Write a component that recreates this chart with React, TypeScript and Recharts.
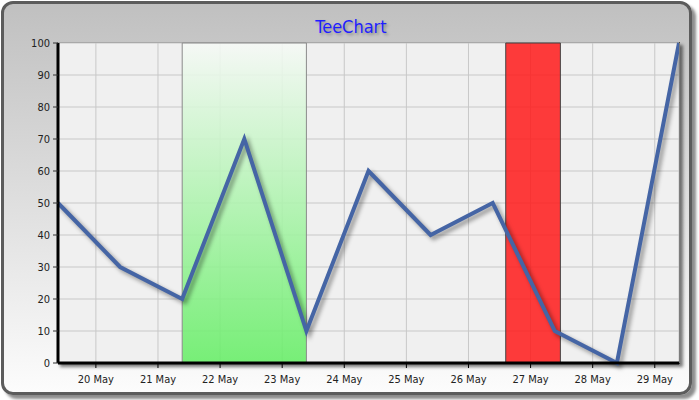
import React from 'react';
import {
  LineChart,
  Line,
  XAxis,
  YAxis,
  CartesianGrid,
  ReferenceArea,
} from 'recharts';

/* ------------------------------------------------------------------ */
/*  Data                                                               */
/* ------------------------------------------------------------------ */

// x position of each point in days of May (points sit ~9h past midnight)
const pointDays = [19.39, 20.39, 21.39, 22.39, 23.39, 24.39, 25.39, 26.39, 27.39, 28.39, 29.39];
const values = [50, 30, 20, 70, 10, 60, 40, 50, 10, 0, 100];

const dayTicks = [20, 21, 22, 23, 24, 25, 26, 27, 28, 29];
const dayLabels = ['20 May', '21 May', '22 May', '23 May', '24 May', '25 May', '26 May', '27 May', '28 May', '29 May'];
const valueTicks = [0, 10, 20, 30, 40, 50, 60, 70, 80, 90, 100];

const greenBand = [21.39, 23.39];
const redBand = [26.6, 27.48];

const chartData = pointDays.map((d, i) => ({ day: d, value: values[i] }));

/* ------------------------------------------------------------------ */
/*  Design tokens                                                      */
/* ------------------------------------------------------------------ */

const FONT = "'DejaVu Sans Condensed', 'DejaVu Sans', sans-serif";
const LINE = '#4565a5';
const GRID = '#c8c8c8';
const PLOT_BG = '#f0f0f0';

const W = 699;
const H = 400;
const PLOT = { left: 58, top: 43, right: 679, bottom: 363 };

export default function App() {
  return (
    <div style={{ position: 'absolute', left: 0, top: 0, width: W, height: H, overflow: 'hidden', background: '#fff' }}>
      <style>{`.recharts-line-curve { filter: drop-shadow(3px 3px 2px rgba(0,0,0,0.4)); }`}</style>

      {/* outer rounded panel */}
      <div
        style={{
          position: 'absolute',
          left: 1,
          top: 1,
          width: 691,
          height: 394,
          boxSizing: 'border-box',
          border: '3px solid #5c5c5c',
          borderRadius: 12,
          background: 'linear-gradient(to bottom, #c0c0c0 0%, #fcfcfc 100%)',
          boxShadow: '4px 4px 3px rgba(0,0,0,0.45)',
        }}
      />

      {/* title */}
      <div
        style={{
          position: 'absolute',
          left: 0,
          top: 16,
          width: 702,
          textAlign: 'center',
          fontFamily: FONT,
          fontSize: 18,
          lineHeight: '22px',
          color: '#1e1eff',
          textShadow: '2px 2px 3px rgba(0,0,0,0.3)',
        }}
      >
        TeeChart
      </div>

      {/* back wall frame + shadow */}
      <div
        style={{
          position: 'absolute',
          left: PLOT.left - 1,
          top: PLOT.top - 1,
          width: PLOT.right - PLOT.left + 2,
          height: PLOT.bottom - PLOT.top + 2,
          boxSizing: 'border-box',
          background: PLOT_BG,
          borderTop: '1px solid #8a8a8a',
          borderRight: '2px solid #333',
          boxShadow: '3px 3px 3px rgba(0,0,0,0.5)',
        }}
      />

      <div style={{ position: 'absolute', left: 0, top: 0 }}>
        <LineChart
          width={W}
          height={H}
          data={chartData}
          margin={{ top: PLOT.top, right: W - PLOT.right, bottom: 7, left: 0 }}
        >
          <defs>
            <linearGradient id="greenFill" x1="0" y1="0" x2="0" y2="1">
              <stop offset="0%" stopColor="#f6f9f6" />
              <stop offset="100%" stopColor="#66ee66" />
            </linearGradient>
          </defs>
          <CartesianGrid stroke={GRID} fill={PLOT_BG} strokeWidth={1} />
          <XAxis
            dataKey="day"
            type="number"
            domain={[pointDays[0], pointDays[pointDays.length - 1]]}
            ticks={dayTicks}
            tickFormatter={(v: number) => dayLabels[dayTicks.indexOf(v)]}
            allowDataOverflow
            height={30}
            tickSize={5}
            tickMargin={7}
            axisLine={{ stroke: '#000', strokeWidth: 3 }}
            tickLine={{ stroke: '#000' }}
            tick={{ fill: '#222', fontSize: 11, fontFamily: FONT }}
            interval={0}
          />
          <YAxis
            type="number"
            domain={[0, 100]}
            ticks={valueTicks}
            width={PLOT.left}
            tickSize={5}
            tickMargin={3}
            axisLine={{ stroke: '#000', strokeWidth: 3 }}
            tickLine={{ stroke: '#333' }}
            tick={{ fill: '#222', fontSize: 11, fontFamily: FONT }}
            interval={0}
          />
          <ReferenceArea
            x1={greenBand[0]}
            x2={greenBand[1]}
            y1={0}
            y2={100}
            fill="url(#greenFill)"
            fillOpacity={0.88}
            stroke="#8a8a8a"
            strokeOpacity={1}
          />
          <ReferenceArea
            x1={redBand[0]}
            x2={redBand[1]}
            y1={0}
            y2={100}
            fill="#ff1a1a"
            fillOpacity={0.85}
            stroke="#444"
            strokeOpacity={1}
          />
          <Line
            type="linear"
            dataKey="value"
            stroke={LINE}
            strokeWidth={4}
            dot={false}
            activeDot={false}
            isAnimationActive={false}
          />
        </LineChart>
      </div>
    </div>
  );
}
